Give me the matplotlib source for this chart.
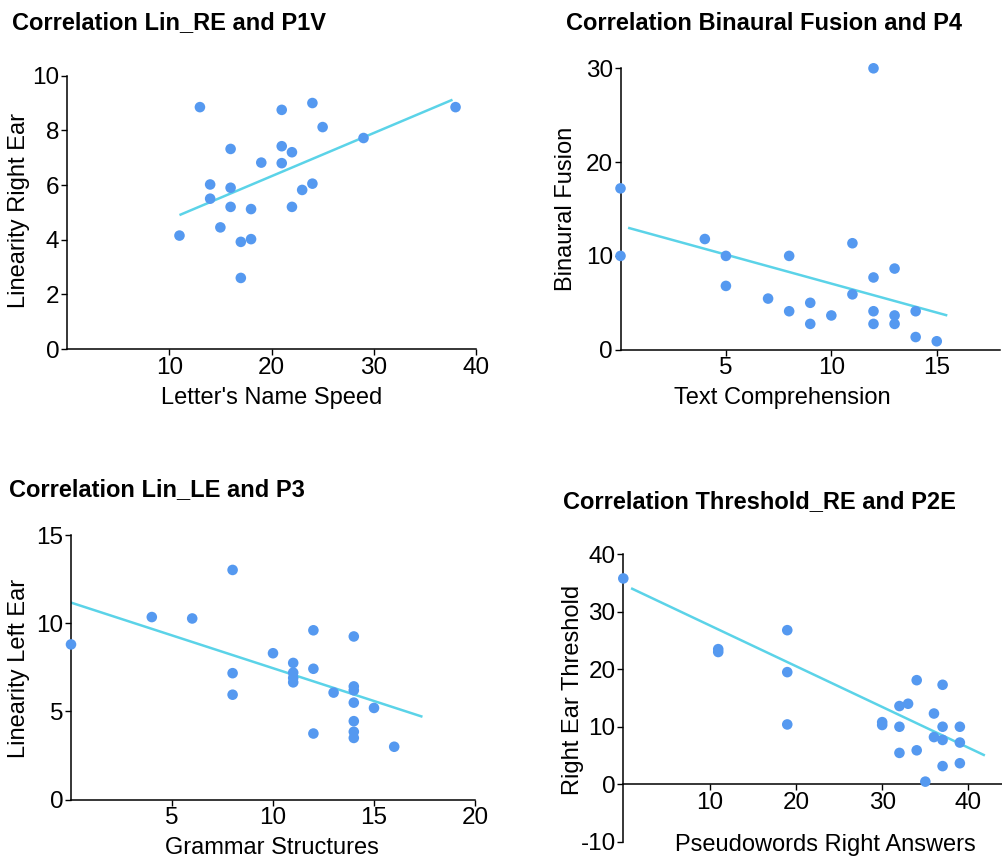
import matplotlib
matplotlib.use("Agg")
import matplotlib.pyplot as plt
import numpy as np

plt.rcParams['font.family'] = ['Liberation Sans', 'DejaVu Sans']
plt.rcParams['axes.unicode_minus'] = False

W, H = 1003, 858

# ---------------- data ----------------
p1_title = "Correlation Lin_RE and P1V"
p1_xlabel = "Letter's Name Speed"
p1_ylabel = "Linearity Right Ear"
p1_x = [13, 24, 21, 25, 29, 38, 16, 21, 22, 19, 21, 14, 24, 16, 14, 23, 16, 18, 22, 15, 11, 17, 18, 17]
p1_y = [8.85, 9.0, 8.75, 8.12, 7.72, 8.85, 7.32, 7.42, 7.2, 6.82, 6.8, 6.02, 6.05, 5.9, 5.5, 5.82,
        5.2, 5.12, 5.2, 4.45, 4.15, 3.92, 4.02, 2.6]
p1_fit_x = [11, 37.7]
p1_fit_y = [4.9, 9.12]
p1_xticks = [10, 20, 30, 40]
p1_yticks = [0, 2, 4, 6, 8, 10]

p2_title = "Correlation Binaural Fusion and P4"
p2_xlabel = "Text Comprehension"
p2_ylabel = "Binaural Fusion"
p2_x = [12, 0, 0, 4, 5, 5, 7, 8, 8, 9, 9, 10, 11, 11, 12, 12, 12, 13, 13, 13, 14, 14, 15]
p2_y = [30.0, 17.2, 10.0, 11.8, 10.0, 6.8, 5.45, 10.0, 4.1, 5.0, 2.75, 3.65, 11.35, 5.9, 7.7,
        4.1, 2.75, 8.65, 3.65, 2.75, 4.1, 1.35, 0.9]
p2_fit_x = [0.36, 15.5]
p2_fit_y = [13.0, 3.65]
p2_xticks = [5, 10, 15]
p2_yticks = [0, 10, 20, 30]

p3_title = "Correlation Lin_LE and P3"
p3_xlabel = "Grammar Structures"
p3_ylabel = "Linearity Left Ear"
p3_x = [0, 4, 6, 8, 8, 8, 10, 11, 11, 11, 11, 12, 12, 12, 13, 14, 14, 14, 14, 14, 14, 14, 15, 16]
p3_y = [8.8, 10.35, 10.27, 13.02, 7.17, 5.95, 8.3, 7.75, 7.2, 6.9, 6.65, 9.6, 7.42, 3.75, 6.07,
        9.25, 6.42, 6.2, 5.5, 4.45, 3.85, 3.5, 5.2, 3.0]
p3_fit_x = [0, 17.4]
p3_fit_y = [11.17, 4.7]
p3_xticks = [5, 10, 15, 20]
p3_yticks = [0, 5, 10, 15]

p4_title = "Correlation Threshold_RE and P2E"
p4_xlabel = "Pseudowords Right Answers"
p4_ylabel = "Right Ear Threshold"
p4_x = [0, 11, 11, 19, 19, 19, 30, 30, 32, 32, 32, 33, 34, 34, 35, 36, 36, 37, 37, 37, 37, 39, 39, 39]
p4_y = [35.8, 23.5, 23.0, 26.8, 19.5, 10.4, 10.8, 10.3, 13.6, 10.0, 5.45, 14.0, 18.1, 5.9, 0.45,
        12.3, 8.2, 17.3, 10.0, 7.7, 3.15, 10.0, 7.25, 3.65]
p4_fit_x = [0.9, 41.9]
p4_fit_y = [34.1, 5.0]
p4_xticks = [10, 20, 30, 40]
p4_yticks = [-10, 0, 10, 20, 30, 40]

# ---------------- style ----------------
PT_COLOR = '#5599F0'
LINE_COLOR = '#5BD3E8'
FS = 17
TFS = 17.5

fig = plt.figure(figsize=(W / 100, H / 100), dpi=100)


def make_ax(left, right, top, bottom):
    return fig.add_axes([left / W, 1 - bottom / H, (right - left) / W, (bottom - top) / H])


def px_to_axes(px, py, box):
    left, right, top, bottom = box
    return (px - left) / (right - left), (bottom - py) / (bottom - top)


panels = [
    dict(box=(67, 476, 75.7, 349), xlim=(0, 40), ylim=(0, 10),
         x=p1_x, y=p1_y, fx=p1_fit_x, fy=p1_fit_y, xt=p1_xticks, yt=p1_yticks,
         title=p1_title, tpos=(12, 23), xl=p1_xlabel, xlpos=(272, 398), yl=p1_ylabel, ylpos=(19, 210)),
    dict(box=(620.5, 1000, 68.3, 349.7), xlim=(0, 18), ylim=(0, 30),
         x=p2_x, y=p2_y, fx=p2_fit_x, fy=p2_fit_y, xt=p2_xticks, yt=p2_yticks,
         title=p2_title, tpos=(566, 23), xl=p2_xlabel, xlpos=(782, 398), yl=p2_ylabel, ylpos=(566, 209)),
    dict(box=(71, 475, 535, 799.7), xlim=(0, 20), ylim=(0, 15),
         x=p3_x, y=p3_y, fx=p3_fit_x, fy=p3_fit_y, xt=p3_xticks, yt=p3_yticks,
         title=p3_title, tpos=(9, 490), xl=p3_xlabel, xlpos=(272, 848), yl=p3_ylabel, ylpos=(19, 668)),
    dict(box=(623.3, 1003, 554.3, 841.7), xlim=(0, 44), ylim=(-10, 40),
         x=p4_x, y=p4_y, fx=p4_fit_x, fy=p4_fit_y, xt=p4_xticks, yt=p4_yticks,
         title=p4_title, tpos=(563, 502), xl=p4_xlabel, xlpos=(825, 845), yl=p4_ylabel, ylpos=(573, 690),
         zero_spine=True),
]

for p in panels:
    ax = make_ax(*p['box'])
    ax.set_xlim(*p['xlim'])
    ax.set_ylim(*p['ylim'])
    ax.plot(p['fx'], p['fy'], color=LINE_COLOR, lw=1.8, zorder=2, solid_capstyle='butt')
    ax.scatter(p['x'], p['y'], s=58, color=PT_COLOR, edgecolors='none', zorder=3, clip_on=False)
    ax.set_xticks(p['xt'])
    ax.set_yticks(p['yt'])
    ax.tick_params(direction='out', length=4, width=1.0, labelsize=TFS, pad=1.5, colors='black')
    for s in ['top', 'right']:
        ax.spines[s].set_visible(False)
    for s in ['left', 'bottom']:
        ax.spines[s].set_linewidth(1.1)
        ax.spines[s].set_color('black')
    if p.get('zero_spine'):
        ax.spines['bottom'].set_position(('data', 0))
    ax.set_facecolor('none')

    ax.set_xlabel(p['xl'], fontsize=FS)
    ax.set_ylabel(p['yl'], fontsize=FS)
    ax.xaxis.label.set_va('center')
    ax.yaxis.label.set_va('center')
    ax.xaxis.set_label_coords(*px_to_axes(*p['xlpos'], p['box']))
    ax.yaxis.set_label_coords(*px_to_axes(*p['ylpos'], p['box']))

    fig.text(p['tpos'][0] / W, 1 - p['tpos'][1] / H, p['title'], fontsize=FS,
             fontweight='bold', ha='left', va='center')

fig.savefig('out.png', dpi=100)
